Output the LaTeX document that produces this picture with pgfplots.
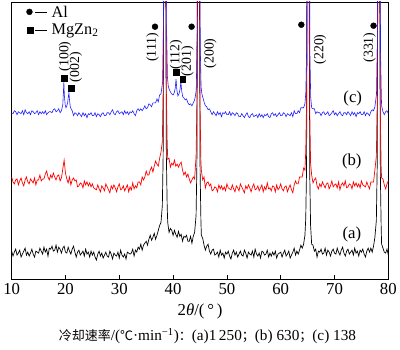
\documentclass[border=0pt]{standalone}
\usepackage{pgfplots}
\pgfplotsset{compat=1.18}
\usepackage{fontspec}
\setmainfont{Liberation Serif}
\newfontfamily\cjk{Noto Sans CJK SC}
\newcommand\cjks{\cjk\fontsize{13.2}{15}\selectfont}
\definecolor{xblue}{RGB}{30,30,255}
\definecolor{xred}{RGB}{255,0,0}
\begin{document}
\begin{tikzpicture}
\begin{axis}[
  width=381bp, height=281bp, scale only axis,
  xmin=10, xmax=80, ymin=0, ymax=281,
  xtick={10,20,...,80}, ytick=\empty,
  xtick pos=bottom, tick align=inside, major tick length=5bp,
  axis line style={line width=0.8pt},
  every tick/.style={line width=0.8pt, black},
  ticklabel style={font=\fontsize{17}{20}\selectfont},
  /pgf/number format/assume math mode=true,
  clip=true,
]
\addplot[black, line width=0.7pt] coordinates {(10,29)(10.25,24)(10.5,28)(10.75,31)(11,25)(11.25,27)(11.5,30)(11.75,23)(12,26)(12.25,29)(12.5,32)(12.75,25)(13,28)(13.25,24)(13.5,27)(13.75,31)(14,26)(14.25,23)(14.5,29)(14.75,28)(15,27)(15.25,32)(15.5,29)(15.75,26)(16,33)(16.25,28)(16.5,31)(16.75,24)(17,32)(17.25,31)(17.5,34)(17.75,29)(18,30)(18.25,35)(18.5,28)(18.75,33)(19,31)(19.25,27)(19.5,32)(19.75,34)(20,28)(20.25,27)(20.5,33)(20.75,29)(21,26)(21.25,31)(21.5,34)(21.75,28)(22,23)(22.25,28)(22.5,30)(22.75,25)(23,27)(23.25,29)(23.5,24)(23.75,31)(24,26)(24.25,28)(24.5,23)(24.75,29)(25,25)(25.25,28)(25.5,23)(25.75,20)(26,26)(26.25,29)(26.5,24)(26.75,27)(27,22)(27.25,25)(27.5,28)(27.75,24)(28,23)(28.25,29)(28.5,26)(28.75,21)(29,27)(29.25,25)(29.5,24)(29.75,28)(30,22)(30.25,30)(30.5,25)(30.75,23)(31,26)(31.25,21)(31.5,28)(31.75,27)(32,26)(32.25,27)(32.5,31)(32.75,24)(33,30)(33.25,28)(33.5,33)(33.75,31)(34,36)(34.25,30)(34.5,35)(34.75,37)(35,39)(35.25,35)(35.5,41)(35.75,45)(36,40)(36.25,43)(36.5,47)(36.75,41)(37,45)(37.25,50)(37.5,55)(37.75,58)(38,75)(38.15,125)(38.25,280)(38.35,950)(38.45,4000)(38.55,950)(38.65,280)(38.75,125)(38.9,75)(39,58)(39.25,48)(39.5,52)(39.75,50)(40,45)(40.25,50)(40.5,46)(40.75,43)(41,49)(41.25,44)(41.5,46)(41.75,39)(42,44)(42.25,43)(42.5,45)(42.75,39)(43,39)(43.25,44)(43.5,37)(43.75,44)(44,48)(44.27,65)(44.42,115)(44.52,270)(44.62,940)(44.72,4000)(44.82,940)(44.92,270)(45.02,110)(45.17,60)(45.25,45)(45.5,42)(45.75,35)(46,30)(46.25,34)(46.5,36)(46.75,29)(47,26)(47.25,30)(47.5,31)(47.75,25)(48,26)(48.25,28)(48.5,23)(48.75,30)(49,25)(49.25,27)(49.5,22)(49.75,28)(50,26)(50.25,29)(50.5,24)(50.75,21)(51,27)(51.25,30)(51.5,25)(51.75,28)(52,23)(52.25,26)(52.5,29)(52.75,25)(53,24)(53.25,30)(53.5,27)(53.75,22)(54,28)(54.25,26)(54.5,25)(54.75,29)(55,23)(55.25,31)(55.5,26)(55.75,24)(56,27)(56.25,22)(56.5,29)(56.75,28)(57,25)(57.25,26)(57.5,30)(57.75,23)(58,27)(58.25,24)(58.5,28)(58.75,25)(59,29)(59.25,22)(59.5,26)(59.75,27)(60,28)(60.25,23)(60.5,27)(60.75,30)(61,24)(61.25,26)(61.5,29)(61.75,22)(62,25)(62.25,28)(62.5,32)(62.75,25)(63,29)(63.25,26)(63.5,30)(63.75,35)(64,32)(64.25,36)(64.5,45)(64.65,62)(64.8,112)(64.9,270)(65,940)(65.1,4000)(65.2,940)(65.3,270)(65.4,105)(65.55,55)(65.75,36)(66,35)(66.25,29)(66.5,31)(66.75,23)(67,29)(67.25,28)(67.5,31)(67.75,26)(68,27)(68.25,32)(68.5,25)(68.75,30)(69,28)(69.25,24)(69.5,29)(69.75,31)(70,27)(70.25,26)(70.5,32)(70.75,28)(71,25)(71.25,30)(71.5,33)(71.75,27)(72,24)(72.25,29)(72.5,31)(72.75,26)(73,28)(73.25,30)(73.5,25)(73.75,32)(74,27)(74.25,29)(74.5,24)(74.75,30)(75,28)(75.25,31)(75.5,26)(75.75,23)(76,29)(76.25,32)(76.5,28)(76.75,32)(77,28)(77.25,34)(77.5,43)(77.77,60)(77.92,112)(78.02,270)(78.12,940)(78.22,4000)(78.32,940)(78.42,270)(78.52,105)(78.67,52)(78.75,36)(79,32)(79.25,28)(79.5,27)(79.75,31)(80,25)};
\addplot[xred, line width=0.7pt] coordinates {(10,104)(10.25,99)(10.5,97)(10.75,101)(11,102)(11.25,96)(11.5,100)(11.75,103)(12,98)(12.25,95)(12.5,101)(12.75,104)(13,99)(13.25,97)(13.5,102)(13.75,100)(14,98)(14.25,103)(14.5,96)(14.75,101)(15,101)(15.25,106)(15.5,100)(15.75,102)(16,102)(16.25,107)(16.5,110)(16.75,104)(17,101)(17.25,106)(17.5,103)(17.75,108)(18,104)(18.25,101)(18.5,105)(18.75,106)(19,100)(19.25,103)(19.5,112)(19.75,121)(20,108)(20.25,102)(20.5,98)(20.75,104)(21,96)(21.25,101)(21.5,103)(21.75,100)(22,101)(22.25,94)(22.5,95)(22.75,98)(23,97)(23.25,93)(23.5,100)(23.75,96)(24,99)(24.25,95)(24.5,98)(24.75,94)(25,97)(25.25,93)(25.5,92)(25.75,91)(26,96)(26.25,92)(26.5,89)(26.75,95)(27,93)(27.25,90)(27.5,97)(27.75,94)(28,91)(28.25,88)(28.5,95)(28.75,92)(29,96)(29.25,93)(29.5,89)(29.75,94)(30,97)(30.25,91)(30.5,92)(30.75,95)(31,90)(31.25,93)(31.5,96)(31.75,89)(32,94)(32.25,91)(32.5,98)(32.75,92)(33,95)(33.25,93)(33.5,99)(33.75,99)(34,96)(34.25,104)(34.5,101)(34.75,104)(35,110)(35.25,106)(35.5,106)(35.75,111)(36,114)(36.25,109)(36.5,115)(36.75,120)(37,117)(37.25,115)(37.5,123)(37.75,129)(38,140)(38.15,190)(38.25,350)(38.35,1000)(38.45,4000)(38.55,1000)(38.65,350)(38.75,190)(38.9,140)(39,122)(39.25,123)(39.5,114)(39.75,118)(40,116)(40.25,121)(40.5,115)(40.75,117)(41,114)(41.25,117)(41.5,119)(41.75,111)(42,106)(42.25,109)(42.5,104)(42.75,107)(43,102)(43.25,98)(43.5,101)(43.75,104)(44,102)(44.27,125)(44.42,175)(44.52,340)(44.62,1000)(44.72,4000)(44.82,1000)(44.92,340)(45.02,170)(45.17,120)(45.25,111)(45.5,101)(45.75,104)(46,93)(46.25,98)(46.5,99)(46.75,95)(47,97)(47.25,90)(47.5,91)(47.75,94)(48,93)(48.25,89)(48.5,96)(48.75,92)(49,95)(49.25,91)(49.5,94)(49.75,90)(50,97)(50.25,93)(50.5,92)(50.75,91)(51,96)(51.25,92)(51.5,89)(51.75,95)(52,93)(52.25,90)(52.5,97)(52.75,94)(53,91)(53.25,88)(53.5,95)(53.75,92)(54,96)(54.25,93)(54.5,89)(54.75,94)(55,97)(55.25,91)(55.5,92)(55.75,95)(56,90)(56.25,93)(56.5,96)(56.75,89)(57,94)(57.25,91)(57.5,98)(57.75,92)(58,93)(58.25,90)(58.5,95)(58.75,94)(59,89)(59.25,96)(59.5,91)(59.75,93)(60,97)(60.25,92)(60.5,90)(60.75,94)(61,95)(61.25,89)(61.5,93)(61.75,96)(62,91)(62.25,88)(62.5,96)(62.75,100)(63,97)(63.25,97)(63.5,104)(63.75,104)(64,104)(64.25,113)(64.5,111)(64.65,130)(64.8,180)(64.9,345)(65,1000)(65.1,4000)(65.2,1000)(65.3,340)(65.4,170)(65.55,118)(65.75,106)(66,98)(66.25,101)(66.5,103)(66.75,95)(67,92)(67.25,97)(67.5,94)(67.75,99)(68,96)(68.25,93)(68.5,97)(68.75,98)(69,92)(69.25,95)(69.5,100)(69.75,94)(70,96)(70.25,97)(70.5,93)(70.75,99)(71,91)(71.25,96)(71.5,98)(71.75,95)(72,100)(72.25,93)(72.5,94)(72.75,97)(73,96)(73.25,92)(73.5,99)(73.75,95)(74,98)(74.25,94)(74.5,97)(74.75,93)(75,100)(75.25,96)(75.5,95)(75.75,94)(76,99)(76.25,95)(76.5,92)(76.75,99)(77,99)(77.25,99)(77.5,111)(77.77,125)(77.92,175)(78.02,340)(78.12,1000)(78.22,4000)(78.32,1000)(78.42,340)(78.52,165)(78.67,112)(78.75,103)(79,102)(79.25,96)(79.5,92)(79.75,97)(80,100)};
\addplot[xblue, line width=0.6pt] coordinates {(10,168)(10.25,168)(10.5,171)(10.75,170)(11,167)(11.25,170)(11.5,169)(11.75,168)(12,171)(12.25,167)(12.5,172)(12.75,169)(13,168)(13.25,170)(13.5,167)(13.75,171)(14,170)(14.25,168)(14.5,169)(14.75,171)(15,167)(15.25,170)(15.5,168)(15.75,170)(16,168)(16.25,171)(16.5,167)(16.75,169)(17,170)(17.25,170)(17.5,169)(17.75,172)(18,173)(18.25,170)(18.5,171)(18.75,173)(19,169)(19.25,171)(19.5,177)(19.6,188)(19.7,200)(19.8,186)(19.95,177)(20.1,174)(20.25,176)(20.4,179)(20.55,186)(20.65,189)(20.75,182)(20.9,175)(21.05,173)(21.25,171)(21.5,166)(21.75,169)(22,168)(22.25,166)(22.5,169)(22.75,167)(23,165)(23.25,169)(23.5,166)(23.75,168)(24,164)(24.25,168)(24.5,167)(24.75,169)(25,166)(25.25,166)(25.5,169)(25.75,165)(26,168)(26.25,167)(26.5,165)(26.75,168)(27,169)(27.25,166)(27.5,166)(27.75,169)(28,169)(28.25,167)(28.5,170)(28.75,172)(29,168)(29.25,167)(29.5,170)(29.75,171)(30,168)(30.25,169)(30.5,170)(30.75,167)(31,171)(31.25,168)(31.5,170)(31.75,167)(32,170)(32.25,169)(32.5,171)(32.75,168)(33,166)(33.25,171)(33.5,173)(33.75,171)(34,173)(34.25,171)(34.5,173)(34.75,176)(35,173)(35.25,174)(35.5,178)(35.75,177)(36,175)(36.25,179)(36.5,179)(36.75,179)(37,183)(37.25,180)(37.5,187)(37.75,188)(38.05,200)(38.2,250)(38.3,420)(38.4,1100)(38.5,4000)(38.6,1100)(38.7,420)(38.8,250)(38.95,205)(39.1,196)(39.25,193)(39.5,190)(39.75,188)(40,187)(40.2,189)(40.4,194)(40.55,203)(40.7,192)(40.9,186)(41.1,188)(41.3,193)(41.45,200)(41.6,191)(41.8,185)(42,184)(42.25,182)(42.5,183)(42.75,179)(43,177)(43.25,178)(43.5,176)(43.75,179)(44,182)(44.15,186)(44.3,192)(44.45,235)(44.55,400)(44.65,1100)(44.75,4000)(44.85,1100)(44.95,400)(45.05,235)(45.2,195)(45.35,188)(45.5,185)(45.75,180)(46,176)(46.25,175)(46.5,172)(46.75,173)(47,170)(47.25,167)(47.5,170)(47.75,168)(48,166)(48.25,170)(48.5,167)(48.75,169)(49,165)(49.25,169)(49.5,168)(49.75,170)(50,167)(50.25,167)(50.5,170)(50.75,166)(51,169)(51.25,168)(51.5,166)(51.75,169)(52,168)(52.25,165)(52.5,165)(52.75,168)(53,166)(53.25,164)(53.5,167)(53.75,169)(54,165)(54.25,164)(54.5,167)(54.75,168)(55,165)(55.25,166)(55.5,167)(55.75,164)(56,168)(56.25,165)(56.5,167)(56.75,164)(57,167)(57.25,166)(57.5,168)(57.75,165)(58,164)(58.25,168)(58.5,169)(58.75,166)(59,168)(59.25,165)(59.5,167)(59.75,169)(60,166)(60.25,166)(60.5,169)(60.75,168)(61,165)(61.25,168)(61.5,167)(61.75,166)(62,169)(62.25,165)(62.5,171)(62.75,168)(63,168)(63.25,171)(63.5,169)(63.75,174)(64,174)(64.25,174)(64.5,178)(64.67,190)(64.82,235)(64.92,400)(65.02,1100)(65.12,4000)(65.22,1100)(65.32,400)(65.42,230)(65.57,185)(65.75,174)(66,173)(66.25,173)(66.5,168)(66.75,170)(67,169)(67.25,169)(67.5,166)(67.75,169)(68,170)(68.25,167)(68.5,168)(68.75,170)(69,166)(69.25,167)(69.5,169)(69.75,171)(70,167)(70.25,169)(70.5,166)(70.75,168)(71,170)(71.25,167)(71.5,166)(71.75,169)(72,169)(72.25,167)(72.5,170)(72.75,168)(73,166)(73.25,170)(73.5,167)(73.75,169)(74,165)(74.25,169)(74.5,168)(74.75,170)(75,167)(75.25,167)(75.5,170)(75.75,166)(76,169)(76.25,168)(76.5,166)(76.75,170)(77,172)(77.25,171)(77.5,175)(77.8,188)(77.95,235)(78.05,400)(78.15,1100)(78.25,4000)(78.35,1100)(78.45,400)(78.55,230)(78.7,185)(78.75,176)(79,170)(79.25,167)(79.5,170)(79.75,171)(80,168)};
% phase markers
\addplot[only marks, mark=*, mark size=3bp, black] coordinates {(13.31,271)(36.64,256)(43.44,256)(63.83,258)(77.25,257)};
\addplot[only marks, mark=square*, mark size=3bp, black] coordinates {(13.49,252)(19.74,204)(21.02,194)(40.50,210)(41.79,203)};
\addplot[black, line width=0.6pt] coordinates {(14.41,271)(16.60,271)};
\addplot[black, line width=0.6pt] coordinates {(14.41,252)(16.60,252)};
% legend text
\node[anchor=west, inner sep=0pt, font=\fontsize{16.5}{19}\selectfont] at (axis cs:17.4,271) {Al};
\node[anchor=west, inner sep=0pt, font=\fontsize{16.5}{19}\selectfont] at (axis cs:17.4,252) {MgZn\textsubscript{2}};
% plane labels
\begin{scope}[every node/.style={rotate=90, font=\fontsize{14}{16}\selectfont, inner sep=0pt}]
\node at (axis cs:19.92,226) {(100)};
\node at (axis cs:21.94,215) {(002)};
\node at (axis cs:36.20,235) {(111)};
\node at (axis cs:40.55,228) {(112)};
\node at (axis cs:42.70,221) {(201)};
\node at (axis cs:46.90,229) {(200)};
\node at (axis cs:67.33,233) {(220)};
\node at (axis cs:76.51,235) {(331)};
\end{scope}
\node[font=\fontsize{17}{20}\selectfont] at (axis cs:73.39,183) {(c)};
\node[font=\fontsize{17}{20}\selectfont] at (axis cs:73.21,120) {(b)};
\node[font=\fontsize{17}{20}\selectfont] at (axis cs:73.21,46) {(a)};
\end{axis}
\node[font=\fontsize{17}{20}\selectfont] at (190.5bp,-32bp) {2\textit{θ}/(\,°\,)};
\node[font=\fontsize{15.5}{18}\selectfont] at (198bp,-57bp) {{\cjks 冷却速率}/({\cjks ℃}·min\textsuperscript{−1}){\cjks ：}(a)1\,250{\cjks ；}(b) 630{\cjks ；}(c) 138};
\path (-8bp,-71bp) rectangle (392bp,283bp);
\end{tikzpicture}
\end{document}
